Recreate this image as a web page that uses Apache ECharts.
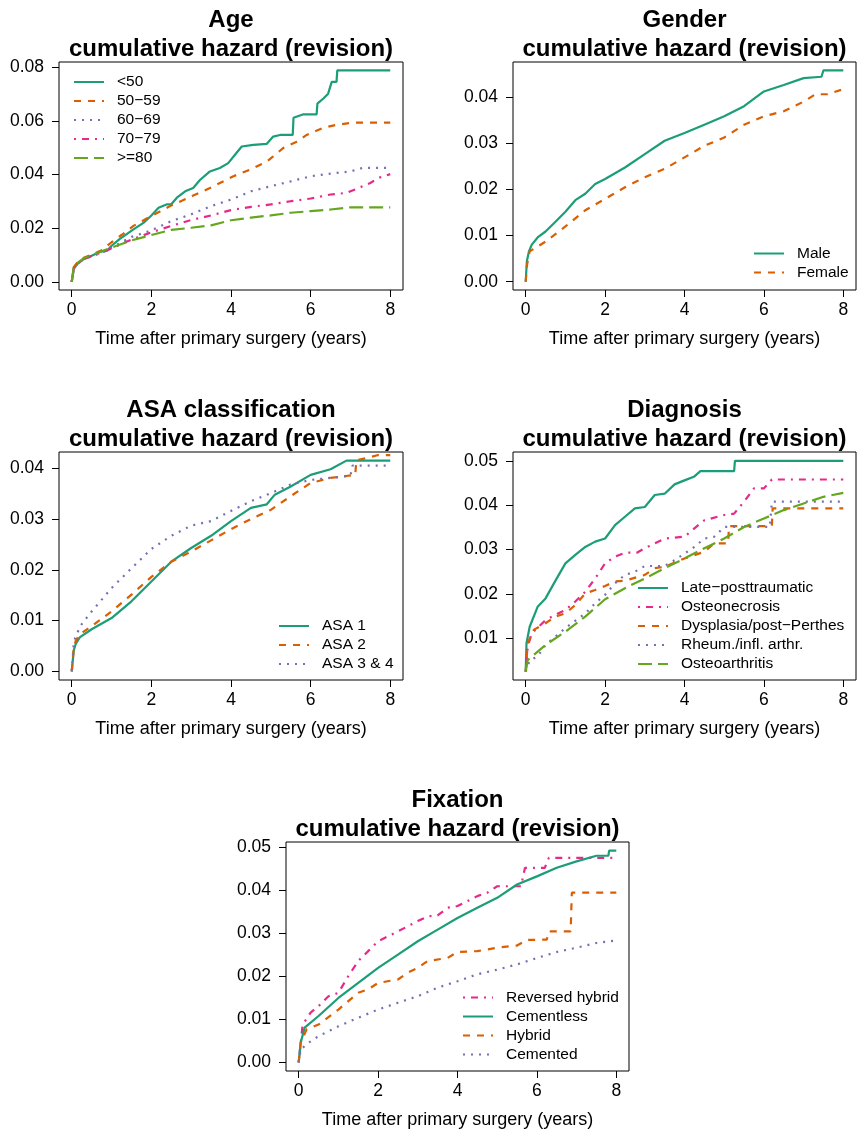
<!DOCTYPE html>
<html>
<head>
<meta charset="utf-8">
<title>Cumulative hazard (revision)</title>
<script src="https://cdn.jsdelivr.net/npm/echarts@6/dist/echarts.min.js"></script>
<style>
  body { margin: 0; background: #fff; }
  #main { width: 857px; height: 1133px; }
</style>
</head>
<body>
<div id="main"></div>
<script>
// values, pairs of [years, cumulative hazard]
const xTicks = [0, 2, 4, 6, 8];
const xName = 'Time after primary surgery (years)';

const ageNames = ['<50', '50\u221259', '60\u221269', '70\u221279', '>=80'];
const ageTicks = [0, 0.02, 0.04, 0.06, 0.08];
const ageLt50 = [[0,0],[0.05,0.005],[0.15,0.0068],[0.3,0.0085],[0.5,0.0098],[0.7,0.0112],[0.9,0.0118],[1.0,0.0135],[1.2,0.016],[1.55,0.0196],[1.8,0.022],[2.0,0.0248],[2.18,0.0277],[2.38,0.0289],[2.5,0.029],[2.64,0.0314],[2.85,0.0338],[3.05,0.035],[3.22,0.038],[3.47,0.0412],[3.72,0.0425],[3.93,0.0443],[4.1,0.0474],[4.27,0.0505],[4.56,0.0511],[4.9,0.0515],[5.06,0.0542],[5.23,0.0548],[5.55,0.0548],[5.57,0.0612],[5.82,0.0625],[6.15,0.0625],[6.17,0.0665],[6.32,0.0684],[6.44,0.0702],[6.53,0.0746],[6.65,0.0746],[6.67,0.0789],[8,0.0789]];
const age5059 = [[0,0],[0.05,0.0055],[0.15,0.0075],[0.3,0.009],[0.5,0.0102],[0.75,0.0118],[1.0,0.0148],[1.25,0.0175],[1.55,0.0209],[2.0,0.0246],[2.47,0.0283],[3.05,0.0322],[3.47,0.035],[4.06,0.0394],[4.48,0.0419],[4.9,0.0449],[5.06,0.0468],[5.31,0.0499],[5.65,0.0523],[5.9,0.0548],[6.32,0.0575],[6.65,0.0586],[7.07,0.0594],[8,0.0594]];
const age6069 = [[0,0],[0.05,0.005],[0.15,0.0068],[0.3,0.0085],[0.5,0.0095],[0.8,0.0112],[1.0,0.0128],[1.5,0.0168],[2.0,0.0192],[2.5,0.0227],[3.0,0.0252],[3.5,0.0283],[4.0,0.0307],[4.5,0.0338],[5.0,0.0357],[5.5,0.0375],[6.0,0.0394],[6.5,0.0404],[7.0,0.0412],[7.3,0.0425],[8,0.0425]];
const age7079 = [[0,0],[0.05,0.005],[0.15,0.0068],[0.3,0.0085],[0.5,0.0097],[0.8,0.0113],[1.0,0.0125],[1.5,0.0158],[2.0,0.0185],[2.5,0.0209],[3.0,0.0231],[3.5,0.0248],[4.0,0.0268],[4.5,0.028],[5.0,0.0289],[5.5,0.0301],[6.0,0.0311],[6.5,0.0326],[6.9,0.0332],[7.2,0.035],[7.5,0.0369],[7.7,0.0388],[8,0.0402]];
const age80 = [[0,0],[0.05,0.0055],[0.15,0.0072],[0.3,0.0088],[0.5,0.01],[0.8,0.0117],[1.0,0.0128],[1.5,0.0155],[2.0,0.0175],[2.5,0.0194],[3.0,0.0202],[3.5,0.0211],[4.0,0.023],[4.5,0.024],[5.0,0.0248],[5.5,0.0258],[6.0,0.0264],[6.5,0.027],[7.0,0.0278],[8,0.0278]];

const genderNames = ['Male', 'Female'];
const genderTicks = [0, 0.01, 0.02, 0.03, 0.04];
const male = [[0,0],[0.03,0.0045],[0.08,0.0065],[0.15,0.008],[0.3,0.0096],[0.5,0.0109],[0.75,0.013],[1.0,0.0152],[1.25,0.0177],[1.5,0.0191],[1.75,0.0212],[2.0,0.0223],[2.5,0.0248],[3.0,0.0277],[3.5,0.0306],[4.0,0.0323],[4.5,0.0341],[5.0,0.0359],[5.5,0.0381],[6.0,0.0413],[6.5,0.0427],[7.0,0.0442],[7.45,0.0445],[7.5,0.0459],[8,0.0459]];
const female = [[0,0],[0.03,0.0035],[0.1,0.0066],[0.5,0.0087],[1.0,0.012],[1.5,0.0155],[2.0,0.018],[2.5,0.0205],[3.0,0.0227],[3.5,0.0245],[4.0,0.027],[4.5,0.0295],[5.0,0.0313],[5.5,0.0341],[6.0,0.0359],[6.5,0.037],[7.0,0.0391],[7.3,0.0407],[7.6,0.0407],[8,0.0418]];

const asaNames = ['ASA 1', 'ASA 2', 'ASA 3 & 4'];
const asaTicks = [0, 0.01, 0.02, 0.03, 0.04];
const asa1 = [[0,0],[0.05,0.0041],[0.1,0.0054],[0.2,0.0067],[0.5,0.0083],[1.0,0.0105],[1.5,0.0138],[2.0,0.0177],[2.5,0.0216],[3.0,0.0243],[3.5,0.0267],[4.0,0.0296],[4.5,0.0322],[4.9,0.0329],[5.1,0.0348],[5.5,0.0364],[6.0,0.0387],[6.5,0.0398],[6.9,0.0415],[8,0.0415]];
const asa2 = [[0,0],[0.05,0.0045],[0.1,0.006],[0.2,0.0073],[0.5,0.0089],[1.0,0.0118],[1.5,0.0151],[2.0,0.0186],[2.5,0.0216],[3.0,0.0236],[3.5,0.0258],[4.0,0.028],[4.5,0.03],[5.0,0.0318],[5.5,0.0345],[6.0,0.0371],[6.5,0.0381],[7.12,0.0387],[7.15,0.0416],[7.4,0.042],[7.7,0.0426],[8,0.0426]];
const asa34 = [[0,0],[0.05,0.0055],[0.1,0.007],[0.25,0.0093],[0.5,0.0118],[1.0,0.0164],[1.5,0.0203],[2.0,0.0241],[2.5,0.0267],[3.0,0.0287],[3.5,0.0296],[4.0,0.0316],[4.5,0.0335],[5.0,0.0351],[5.5,0.0368],[6.0,0.0377],[6.5,0.0381],[7.0,0.0385],[7.05,0.0405],[8,0.0405]];

const diagNames = ['Late\u2212posttraumatic', 'Osteonecrosis', 'Dysplasia/post\u2212Perthes', 'Rheum./infl. arthr.', 'Osteoarthritis'];
const diagTicks = [0.01, 0.02, 0.03, 0.04, 0.05];
const latePost = [[0,0.0025],[0.02,0.0089],[0.1,0.0126],[0.3,0.0171],[0.5,0.019],[0.75,0.023],[1.0,0.0269],[1.25,0.0288],[1.5,0.0306],[1.75,0.0318],[2.0,0.0325],[2.25,0.0355],[2.5,0.0374],[2.75,0.0393],[3.0,0.0396],[3.25,0.0423],[3.5,0.0426],[3.75,0.0447],[4.0,0.0456],[4.25,0.0465],[4.4,0.0477],[5.25,0.0477],[5.27,0.05],[8,0.05]];
const osteonec = [[0,0.0025],[0.05,0.0081],[0.15,0.0111],[0.5,0.0141],[0.75,0.0153],[1.0,0.0164],[1.25,0.0183],[1.5,0.0205],[1.75,0.0235],[2.0,0.0269],[2.25,0.0284],[2.5,0.0293],[2.8,0.0293],[3.0,0.0303],[3.25,0.0314],[3.5,0.0325],[4.0,0.0329],[4.25,0.0348],[4.5,0.0366],[5.0,0.0378],[5.25,0.0381],[5.5,0.0408],[5.75,0.0438],[6.0,0.0438],[6.2,0.0458],[8,0.0458]];
const dysplasia = [[0,0.0025],[0.05,0.0089],[0.2,0.0119],[0.5,0.0134],[0.75,0.0149],[1.0,0.0156],[1.25,0.0175],[1.5,0.0201],[1.75,0.0209],[2.0,0.0218],[2.25,0.0228],[2.5,0.023],[3.0,0.0243],[3.25,0.0258],[3.5,0.0261],[4.0,0.028],[4.5,0.0295],[4.75,0.0314],[5.1,0.0314],[5.12,0.0353],[6.2,0.0353],[6.22,0.0393],[8,0.0393]];
const rheum = [[0,0.0025],[0.1,0.005],[0.3,0.0059],[0.5,0.0085],[0.75,0.0104],[1.0,0.0123],[1.5,0.0156],[1.75,0.0179],[2.0,0.0198],[2.25,0.0224],[2.5,0.0243],[2.75,0.025],[3.0,0.0263],[3.5,0.0263],[3.75,0.0276],[4.0,0.0291],[4.25,0.0306],[4.5,0.0325],[4.75,0.0329],[5.0,0.0351],[6.15,0.0351],[6.2,0.0408],[8,0.0408]];
const osteoarth = [[0,0.0025],[0.05,0.0051],[0.25,0.0066],[0.5,0.0085],[1.0,0.0115],[1.5,0.0149],[2.0,0.0188],[2.5,0.0213],[3.0,0.0235],[3.5,0.0258],[4.0,0.028],[4.5,0.0303],[5.0,0.0325],[5.5,0.0351],[6.0,0.037],[6.5,0.0389],[7.0,0.0404],[7.5,0.0419],[8,0.0428]];

const fixNames = ['Reversed hybrid', 'Cementless', 'Hybrid', 'Cemented'];
const fixTicks = [0, 0.01, 0.02, 0.03, 0.04, 0.05];
const revHybrid = [[0,0],[0.05,0.0046],[0.1,0.0088],[0.3,0.0116],[0.5,0.0131],[0.75,0.0154],[1.0,0.0162],[1.25,0.0201],[1.5,0.0236],[1.75,0.0259],[2.0,0.0282],[2.5,0.0305],[3.0,0.0329],[3.25,0.034],[3.5,0.0342],[3.75,0.036],[4.0,0.0364],[4.5,0.0387],[4.75,0.0395],[5.0,0.041],[5.6,0.041],[5.7,0.0453],[6.2,0.0453],[6.3,0.0476],[8,0.0476]];
const cementless = [[0,0],[0.05,0.0046],[0.15,0.0081],[0.5,0.0108],[1.0,0.015],[1.5,0.0185],[2.0,0.022],[2.5,0.0251],[3.0,0.0282],[3.5,0.0309],[4.0,0.0336],[4.5,0.036],[5.0,0.0383],[5.5,0.0414],[6.0,0.0433],[6.5,0.0453],[7.0,0.0468],[7.5,0.0481],[7.8,0.0481],[7.82,0.0493],[8,0.0493]];
const hybrid = [[0,0],[0.05,0.0046],[0.2,0.0077],[0.5,0.0088],[1.0,0.0123],[1.5,0.0162],[1.75,0.017],[2.0,0.0185],[2.5,0.0193],[2.75,0.0209],[3.0,0.022],[3.25,0.0236],[3.75,0.0243],[4.0,0.0257],[4.5,0.0259],[5.0,0.0267],[5.5,0.0272],[5.75,0.0285],[6.25,0.0286],[6.3,0.0305],[6.85,0.0305],[6.88,0.0395],[8,0.0395]];
const cemented = [[0,0],[0.05,0.003],[0.25,0.0046],[0.5,0.0061],[1.0,0.0084],[1.5,0.0104],[2.0,0.0123],[2.5,0.0139],[3.0,0.0154],[3.5,0.0174],[4.0,0.0189],[4.5,0.0205],[5.0,0.0216],[5.5,0.0228],[6.0,0.0243],[6.5,0.0257],[7.0,0.0267],[7.5,0.0278],[8,0.0284]];

// Dark2 colours and R line types
const GREEN = '#1B9E77', ORANGE = '#D95F02', PURPLE = '#7570B3', PINK = '#E7298A', LIME = '#66A61E';
const SOLID = 'solid', DASHED = [7, 7], DOTTED = [2, 6], DOTDASH = [2, 6, 7, 6], LONGDASH = [14, 6];

const FONT = 'Liberation Sans, Arial, Helvetica, sans-serif';

const panels = [
  { title: 'Age', names: ageNames, lines: [ageLt50, age5059, age6069, age7079, age80],
    colors: [GREEN, ORANGE, PURPLE, PINK, LIME], dash: [SOLID, DASHED, DOTTED, DOTDASH, LONGDASH],
    ticks: ageTicks, yMin: -0.003, yMax: 0.082,
    box: [59, 62, 344, 228], legend: [73, 72.5] },
  { title: 'Gender', names: genderNames, lines: [male, female],
    colors: [GREEN, ORANGE], dash: [SOLID, DASHED],
    ticks: genderTicks, yMin: -0.0018, yMax: 0.0477,
    box: [513, 62, 343, 228], legend: [753, 244] },
  { title: 'ASA classification', names: asaNames, lines: [asa1, asa2, asa34],
    colors: [GREEN, ORANGE, PURPLE], dash: [SOLID, DASHED, DOTTED],
    ticks: asaTicks, yMin: -0.0017, yMax: 0.0432,
    box: [59, 452, 344, 228], legend: [278, 616.5] },
  { title: 'Diagnosis', names: diagNames, lines: [latePost, osteonec, dysplasia, rheum, osteoarth],
    colors: [GREEN, PINK, ORANGE, PURPLE, LIME], dash: [SOLID, DOTDASH, DASHED, DOTTED, LONGDASH],
    ticks: diagTicks, yMin: 0.0006, yMax: 0.052,
    box: [513, 452, 343, 228], legend: [637, 578.5] },
  { title: 'Fixation', names: fixNames, lines: [revHybrid, cementless, hybrid, cemented],
    colors: [PINK, GREEN, ORANGE, PURPLE], dash: [DOTDASH, SOLID, DASHED, DOTTED],
    ticks: fixTicks, yMin: -0.002, yMax: 0.0513,
    box: [286, 842, 343, 229], legend: [462, 988] }
];

const option = {
  animation: false,
  backgroundColor: '#fff',
  textStyle: { fontFamily: FONT, color: '#000' },
  title: [], grid: [], xAxis: [], yAxis: [], legend: [], series: []
};

panels.forEach((p, i) => {
  const [left, top, width, height] = p.box;
  option.title.push({
    text: p.title + '\ncumulative hazard (revision)',
    left: left + width / 2, top: top - 56.5,
    textAlign: 'center', padding: 0,
    textStyle: { fontFamily: FONT, fontSize: 24, fontWeight: 'bold', color: '#000', lineHeight: 29 }
  });
  option.grid.push({
    left: left, top: top, width: width, height: height,
    show: true, borderColor: '#000', borderWidth: 1, backgroundColor: 'transparent',
    outerBoundsMode: 'none', containLabel: false
  });
  option.xAxis.push({
    type: 'value', gridIndex: i, min: -0.32, max: 8.32, position: 'bottom',
    name: xName, nameLocation: 'middle', nameGap: 40,
    nameTextStyle: { fontFamily: FONT, fontSize: 18, color: '#000' },
    axisLine: { show: false, onZero: false },
    axisTick: { show: true, inside: false, length: 7, customValues: xTicks, lineStyle: { color: '#000', width: 1 } },
    axisLabel: { customValues: xTicks, fontSize: 17.5, color: '#000', margin: 11 },
    splitLine: { show: false }
  });
  option.yAxis.push({
    type: 'value', gridIndex: i, min: p.yMin, max: p.yMax, position: 'left',
    axisLine: { show: false, onZero: false },
    axisTick: { show: true, inside: false, length: 7, customValues: p.ticks, lineStyle: { color: '#000', width: 1 } },
    axisLabel: { customValues: p.ticks, fontSize: 17.5, color: '#000', margin: 15,
      formatter: v => v.toFixed(2) },
    splitLine: { show: false }
  });
  option.legend.push({
    data: p.names, orient: 'vertical', left: p.legend[0], top: p.legend[1],
    padding: 0, itemGap: 0, itemWidth: 30, itemHeight: 14,
    selectedMode: false,
    itemStyle: { opacity: 0, color: 'transparent', borderWidth: 0 },
    textStyle: { fontFamily: FONT, fontSize: 15.5, color: '#000', lineHeight: 19, padding: [0, 0, 0, 8] }
  });
  p.lines.forEach((d, k) => {
    option.series.push({
      name: p.names[k], type: 'line', xAxisIndex: i, yAxisIndex: i,
      data: d, symbol: 'none', showSymbol: false, clip: true,
      itemStyle: { color: p.colors[k] },
      lineStyle: { color: p.colors[k], width: 2.2, type: p.dash[k] },
      emphasis: { disabled: true }
    });
  });
});

const chart = echarts.init(document.getElementById('main'), null, { renderer: 'canvas' });
chart.setOption(option);
</script>
</body>
</html>
